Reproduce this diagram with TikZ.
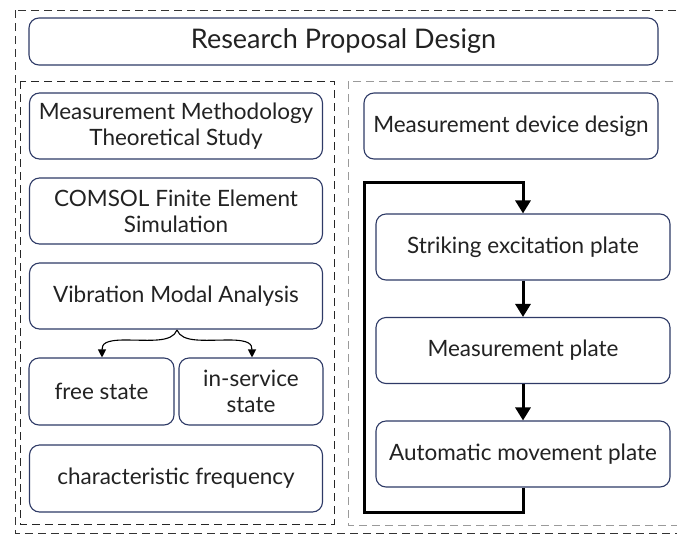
\documentclass[tikz,border=0pt]{standalone}
\usepackage{fontspec}
\setmainfont{Lato}
\usetikzlibrary{arrows.meta}
\definecolor{boxline}{HTML}{2E3A66}
\definecolor{txt}{HTML}{222222}
\definecolor{greydash}{HTML}{9A9A9A}
\begin{document}
\begin{tikzpicture}[x=1pt,y=-1pt,
  box/.style={draw=boxline, line width=1.1pt, rounded corners=10pt, fill=white,
    align=center, inner sep=0pt, text=txt, font=\fontsize{22.5}{26}\selectfont},
  wbox/.style={box, minimum width=293pt, minimum height=66pt},
  sbox/.style={box, minimum width=144pt, minimum height=67pt},
  region/.style={line width=0.9pt, dash pattern=on 8pt off 5pt},
  flow/.style={line width=3pt, -{Triangle[width=15pt,length=13pt]}},
  brarrow/.style={line width=1.1pt, -{Triangle[width=8pt,length=8pt]}}
]
\useasboundingbox (0,0) rectangle (677,536);
\begin{scope}
\clip (0,0) rectangle (677,536);
\draw[region, draw=black!80] (15,10) rectangle (700,533);
\draw[region, draw=black!85] (20,81) rectangle (334,524);
\draw[region, draw=greydash] (348,81) rectangle (710,525);
\end{scope}

\node[box, minimum width=629pt, minimum height=47pt, font=\fontsize{27}{30}\selectfont] (top) at (343.5,41.5) {Research Proposal Design};

\node[wbox] (mmts) at (176,126) {Measurement Methodology\\Theoretical Study};
\node[wbox] (comsol) at (176,211) {COMSOL Finite Element\\Simulation};
\node[wbox] (vma) at (176,296) {Vibration Modal Analysis};
\node[sbox, minimum width=145pt] (free) at (101.5,391.5) {free state};
\node[sbox] (inserv) at (251,391.5) {in-service\\state};
\node[wbox, minimum height=67pt] (charf) at (176,478.5) {characteristic frequency};

\node[wbox, minimum width=294pt] (mdd) at (511,126) {Measurement device design};
\node[wbox, minimum width=294pt] (strike) at (523,247) {Striking excitation plate};
\node[wbox, minimum width=294pt] (meas) at (523,350.5) {Measurement plate};
\node[wbox, minimum width=294pt] (auto) at (523,454) {Automatic movement plate};

% brace arrows
\coordinate (bc) at (177,330);
\draw[brarrow] (bc) .. controls (172,343) and (150,340) .. (125,340) .. controls (105,340) and (102,344) .. (free.north -| 102,0);
\draw[brarrow] (bc) .. controls (182,343) and (204,340) .. (229,340) .. controls (249,340) and (252,344) .. (inserv.north -| 252,0);

% flow arrows
\draw[flow] (strike) -- (meas);
\draw[flow] (meas) -- (auto);
\coordinate (lb) at (364,512);
\coordinate (lt) at (364,182);
\draw[line width=3pt, line join=miter] (auto.south) -- (auto.south |- lb) -- (lb) -- (lt) -- (lt -| strike.north) -- ++(0,6);
\draw[flow] (lt -| strike.north) -- (strike.north);
\end{tikzpicture}
\end{document}
